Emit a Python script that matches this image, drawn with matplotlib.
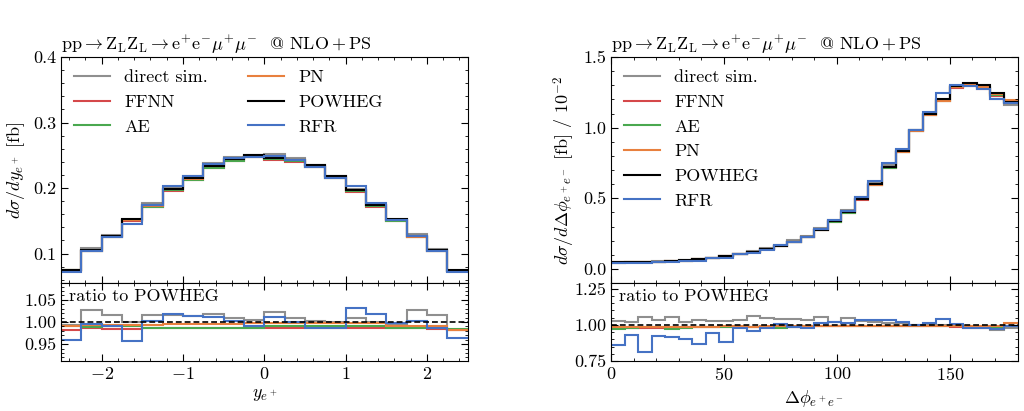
import numpy as np
import matplotlib
matplotlib.use("Agg")
import matplotlib.pyplot as plt
from matplotlib.ticker import MultipleLocator

plt.rcParams['font.family'] = 'serif'
plt.rcParams['font.serif'] = ['cmr10', 'DejaVu Serif']
plt.rcParams['mathtext.fontset'] = 'cm'
plt.rcParams['axes.formatter.use_mathtext'] = True
plt.rcParams['font.size'] = 13

# --- binning ---
y_edges = np.linspace(-2.5, 2.5, 21)
phi_edges = np.linspace(0, 180, 31)

# --- left panel: d sigma / d y_e+ [fb], POWHEG reference ---
y_powheg = [0.075, 0.105, 0.127, 0.152, 0.174, 0.199, 0.215, 0.234, 0.245, 0.250,
            0.246, 0.243, 0.235, 0.218, 0.197, 0.174, 0.152, 0.127, 0.105, 0.075]

# ratios to POWHEG
y_ratio = {
    'direct sim.': [0.993, 1.027, 1.016, 0.999, 1.016, 1.016, 1.014, 1.017, 1.010, 1.004,
                    1.023, 1.010, 1.002, 1.000, 1.010, 1.000, 0.993, 1.027, 1.016, 0.982],
    'FFNN': [0.982, 0.986, 0.984, 0.984, 0.986, 0.986, 0.986, 0.986, 0.986, 0.987,
             0.987, 0.987, 0.987, 0.987, 0.987, 0.987, 0.986, 0.986, 0.985, 0.982],
    'AE': [0.991, 0.989, 0.990, 0.990, 0.987, 0.987, 0.987, 0.987, 0.987, 0.987,
           0.991, 0.991, 0.990, 0.990, 0.990, 0.990, 0.987, 0.987, 0.987, 0.985],
    'PN': [0.992, 0.993, 0.993, 0.993, 0.994, 0.995, 0.996, 0.996, 0.996, 0.997,
           0.997, 0.997, 0.997, 0.997, 0.997, 0.997, 0.992, 0.992, 0.992, 0.981],
    'RFR': [0.960, 0.995, 0.992, 0.958, 1.003, 1.017, 1.013, 1.011, 1.002, 0.992,
            1.012, 1.000, 0.986, 0.986, 1.032, 1.019, 0.997, 1.003, 0.986, 0.965],
}

# --- right panel: d sigma / d Delta phi [fb] / 1e-2, POWHEG reference ---
phi_powheg = [0.046, 0.047, 0.048, 0.051, 0.055, 0.060, 0.068, 0.078, 0.090, 0.104,
              0.120, 0.140, 0.165, 0.194, 0.228, 0.276, 0.338, 0.402, 0.495, 0.600,
              0.722, 0.835, 0.982, 1.100, 1.200, 1.295, 1.320, 1.300, 1.245, 1.185]

phi_ratio = {
    'direct sim.': [1.028, 1.017, 1.052, 1.035, 1.052, 1.017, 1.035, 1.028, 1.028, 1.033,
                    1.059, 1.045, 1.040, 1.040, 1.035, 1.057, 1.020, 1.045, 1.028, 1.018,
                    1.015, 1.012, 1.000, 0.998, 0.996, 0.992, 0.985, 0.985, 0.965, 0.980],
    'FFNN': [0.981, 0.981, 0.981, 0.981, 0.981, 0.982, 0.982, 0.982, 0.983, 0.983,
             0.983, 0.985, 0.987, 0.988, 0.990, 0.992, 0.992, 0.992, 0.992, 0.992,
             0.992, 0.992, 0.992, 0.990, 0.990, 0.988, 0.981, 0.981, 0.985, 0.992],
    'AE': [0.969, 0.981, 0.986, 0.986, 0.969, 0.981, 0.983, 0.985, 0.986, 0.986,
           0.986, 0.985, 0.981, 0.988, 0.990, 0.992, 0.992, 0.992, 0.993, 0.993,
           0.993, 0.993, 0.993, 0.993, 0.993, 0.993, 0.990, 0.990, 0.988, 0.990],
    'PN': [0.988, 0.988, 0.988, 0.988, 0.988, 0.988, 0.988, 0.988, 0.990, 0.990,
           0.988, 0.990, 0.993, 0.993, 0.993, 0.995, 0.995, 0.995, 0.995, 0.995,
           0.995, 0.995, 0.993, 0.993, 0.993, 0.993, 0.993, 0.993, 0.995, 1.012],
    'RFR': [0.858, 0.929, 0.811, 0.922, 0.917, 0.899, 0.868, 0.946, 0.880, 0.981,
            0.958, 0.981, 1.009, 0.988, 0.976, 1.012, 1.017, 1.012, 1.035, 1.035,
            1.035, 1.017, 1.000, 1.012, 1.040, 1.005, 0.980, 0.980, 0.969, 0.993],
}

colors = {
    'direct sim.': '#8f8f8f',
    'FFNN': '#d5484a',
    'AE': '#4aa84f',
    'PN': '#e8803e',
    'POWHEG': 'black',
    'RFR': '#4572c4',
}
draw_order = ['direct sim.', 'FFNN', 'AE', 'PN', 'POWHEG', 'RFR']
title = (r'$\mathrm{pp}\rightarrow\mathrm{Z}_\mathrm{L}\mathrm{Z}_\mathrm{L}\rightarrow'
         r'\mathrm{e}^{+}\mathrm{e}^{{-}}\mu^{+}\mu^{{-}}$  @ $\mathrm{NLO}+\mathrm{PS}$')

fig = plt.figure(figsize=(10.24, 4.11), dpi=100)

panels = [
    dict(x0=0.0596, edges=y_edges, ref=y_powheg, ratio=y_ratio, ylim=(0.055, 0.4),
         rlim=(0.912, 1.088), xlim=(-2.5, 2.5), ymaj=0.1, ymin=0.02, rmin=0.01,
         xmaj=1, xmin=0.2, ylabel=r'$d\sigma/dy_{e^+}$ [fb]', xlabel=r'$y_{e^+}$', ncol=2,
         rticks=[0.95, 1.0, 1.05]),
    dict(x0=0.5967, edges=phi_edges, ref=phi_powheg, ratio=phi_ratio, ylim=(-0.1, 1.5),
         rlim=(0.75, 1.29), xlim=(0, 180), ymaj=0.5, ymin=0.1, rmin=0.05,
         xmaj=50, xmin=10, ylabel=r'$d\sigma/d\Delta\phi_{e^+e^-}$ [fb] / $10^{-2}$',
         xlabel=r'$\Delta\phi_{e^+e^-}$', ncol=1,
         rticks=[0.75, 1.0, 1.25]),
]

for p in panels:
    ax = fig.add_axes([p['x0'], 0.3114, 0.397, 0.5497])
    rax = fig.add_axes([p['x0'], 0.1217, 0.397, 0.1897], sharex=ax)
    ref = np.array(p['ref'])

    for name in draw_order:
        if name == 'POWHEG':
            vals = ref
            r = np.ones_like(ref)
        else:
            r = np.array(p['ratio'][name])
            vals = ref * r
        ax.stairs(vals, p['edges'], color=colors[name], lw=1.5, label=name,
                  baseline=None)
        if name == 'POWHEG':
            rax.axhline(1.0, color='black', lw=1.2, ls=(0, (3.5, 1.8)), zorder=5)
        else:
            rax.stairs(r, p['edges'], color=colors[name], lw=1.5, baseline=None)

    ax.set_xlim(*p['xlim'])
    ax.set_ylim(*p['ylim'])
    rax.set_ylim(*p['rlim'])
    ax.yaxis.set_major_locator(MultipleLocator(p['ymaj']))
    ax.yaxis.set_minor_locator(MultipleLocator(p['ymin']))
    ax.yaxis.set_major_formatter(plt.FormatStrFormatter('%.1f'))
    rax.set_yticks(p['rticks'])
    rax.yaxis.set_major_formatter(plt.FormatStrFormatter('%.2f'))
    rax.yaxis.set_minor_locator(MultipleLocator(p['rmin']))
    rax.xaxis.set_major_locator(MultipleLocator(p['xmaj']))
    rax.xaxis.set_minor_locator(MultipleLocator(p['xmin']))
    plt.setp(ax.get_xticklabels(), visible=False)

    for a in (ax, rax):
        a.tick_params(which='both', direction='in', top=True, right=True, labelsize=13)
        a.tick_params(which='major', length=5, width=0.8)
        a.tick_params(which='minor', length=2.5, width=0.6)

    ax.set_ylabel(p['ylabel'], fontsize=13)
    rax.set_xlabel(p['xlabel'], fontsize=13, labelpad=4)
    fig.align_ylabels([ax, rax])
    ax.set_title(title, loc='left', fontsize=13, pad=5)

    handles, labels = ax.get_legend_handles_labels()
    ax.legend(handles, labels, loc='upper left', ncol=p['ncol'], frameon=False,
              fontsize=13, handlelength=2.0, columnspacing=2.2, labelspacing=0.5,
              borderaxespad=0.3)
    rax.text(0.02, 0.93, 'ratio to POWHEG', transform=rax.transAxes, ha='left',
             va='top', fontsize=13)

fig.savefig('out.png', dpi=100)
